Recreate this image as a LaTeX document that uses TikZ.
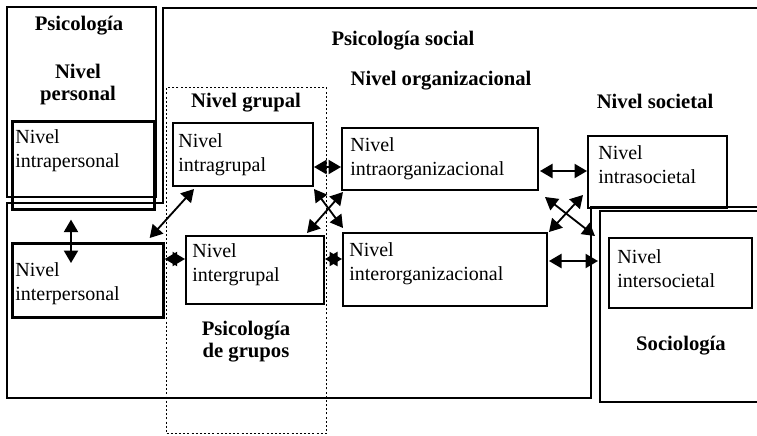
\documentclass[tikz,border=0pt]{standalone}
\usepackage{fontspec}
\setmainfont{Liberation Serif}
\usetikzlibrary{arrows.meta,calc}

\begin{document}
\begin{tikzpicture}[x=0.6pt,y=-0.6pt,
  every node/.style={font=\fontsize{12pt}{14.4pt}\selectfont},
  sz/.style 2 args={minimum width=#1*0.6pt, minimum height=#2*0.6pt},
  box/.style={draw, line width=1.2pt, anchor=north west, inner sep=0pt},
  heavybox/.style={box, line width=1.6pt},
  dotbox/.style={box, line width=0.7pt, dash pattern=on 1.2pt off 1.3pt},
  lbl/.style={anchor=base west, align=left, inner sep=0pt},
  ttl/.style={anchor=base, align=center, inner sep=0pt, font=\fontsize{12.4pt}{13.2pt}\selectfont\bfseries},
  link/.style={line width=1.1pt, {Triangle[length=7.5pt,width=8.5pt]}-{Triangle[length=7.5pt,width=8.5pt]}}
]
\useasboundingbox (0,0) rectangle (757,435);

% outer frames
\draw[line width=1.6pt] (762,8) -- (163,8) -- (163,203) -- (7,203) -- (7,398)
  -- (591,398) -- (591,207) -- (762,207);
\node[box, sz={149}{190}] (psi) at (6,6) {};
\node[box, sz={170}{191}] (socio) at (599,210) {};
\node[dotbox, sz={160}{346}] (grupo) at (166,87) {};

% level boxes
\node[heavybox, sz={142}{88}] (intrapers) at (11,120) {};
\node[heavybox, sz={151}{74}] (interpers) at (11,242) {};
\node[box, sz={140}{63}] (intragr) at (172,122) {};
\node[box, sz={138}{68}] (intergr) at (185,235) {};
\node[box, sz={196}{62}] (intraorg) at (341,127) {};
\node[box, sz={204}{73}] (interorg) at (342,232) {};
\node[box, sz={139}{72}] (intrasoc) at (587,135) {};
\node[box, sz={143}{70}] (intersoc) at (608,237) {};

% box labels (anchored on the baseline of the last line)
\node[lbl] (tintrapers) at (15,167) {Nivel\\intrapersonal};
\node[lbl] (tinterpers) at (15,300) {Nivel\\interpersonal};
\node[lbl] (tintragr) at (178,171) {Nivel\\intragrupal};
\node[lbl] (tintergr) at (192,281) {Nivel\\intergrupal};
\node[lbl] (tintraorg) at (350,175) {Nivel\\intraorganizacional};
\node[lbl] (tinterorg) at (349,280) {Nivel\\interorganizacional};
\node[lbl] (tintrasoc) at (598,183) {Nivel\\intrasocietal};
\node[lbl] (tintersoc) at (617,287) {Nivel\\intersocietal};

% headings
\node[ttl] (hpsi) at (79,30) {Psicología};
\node[ttl] (hpers) at (78,100) {Nivel\\personal};
\node[ttl] (hsocial) at (403,45) {Psicología social};
\node[ttl] (horg) at (441,85) {Nivel organizacional};
\node[ttl] (hgrup) at (246,107) {Nivel grupal};
\node[ttl] (hsoc) at (655,108) {Nivel societal};
\node[ttl] (hpgr) at (246,357) {Psicología\\de grupos};
\node[ttl] (hsocio) at (681,350) {Sociología};

% connections
\draw[link] ($(intrapers.south west)+(60,9)$) -- ($(interpers.north west)+(60,21)$);
\draw[link] ($(interpers.north east)+(-15,-4)$) -- ($(intragr.south west)+(22,2)$);
\draw[link] ($(interpers.north east)+(0,17)$) -- ($(intergr.north west)+(0,24)$);
\draw[link] ($(intragr.north east)+(0,45)$) -- ($(intraorg.north west)+(0,40)$);
\draw[link] ($(intergr.north east)+(0,24)$) -- ($(interorg.north west)+(0,27)$);
\draw[link] ($(intragr.south east)+(0,2)$) -- ($(interorg.north west)+(1,-4)$);
\draw[link] ($(intergr.north east)+(-18,-2)$) -- ($(intraorg.south west)+(2,1)$);
\draw[link] ($(intraorg.north east)+(1,44)$) -- ($(intrasoc.north west)+(0,36)$);
\draw[link] ($(intraorg.south east)+(6,6)$) -- ($(socio.north west)+(-4,26)$);
\draw[link] ($(interorg.north east)+(1,0)$) -- ($(intrasoc.south west)+(-4,-14)$);
\draw[link] ($(interorg.north east)+(1,29)$) -- ($(socio.north west)+(-1,51)$);
\end{tikzpicture}
\end{document}
